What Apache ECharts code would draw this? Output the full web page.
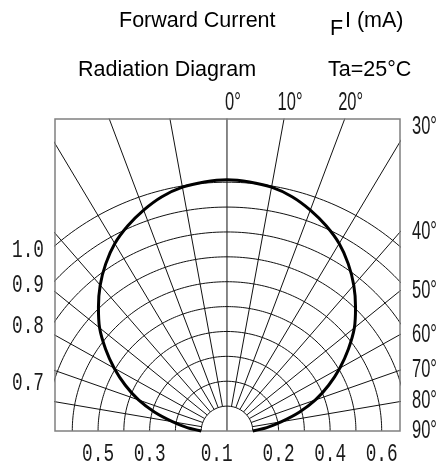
<!DOCTYPE html>
<html><head><meta charset="utf-8">
<script src="https://cdn.jsdelivr.net/npm/echarts@6/dist/echarts.min.js"></script>
<style>html,body{margin:0;padding:0;background:#fff}#c{width:441px;height:466px}</style>
</head><body><div id="c"></div>
<script>
// Radiation pattern (relative intensity vs angle, degrees from axis)
const curveAngles = [-90,-85,-80,-75,-70,-65,-60,-55,-50,-45,-40,-35,-30,-25,-20,-15,-10,-5,0,5,10,15,20,25,30,35,40,45,50,55,60,65,70,75,80,85,90];
const curveIntensity = [0.10,0.155,0.215,0.29,0.365,0.435,0.505,0.575,0.645,0.705,0.765,0.82,0.87,0.91,0.945,0.975,0.995,1.005,1.01,1.005,0.995,0.975,0.945,0.91,0.87,0.82,0.765,0.705,0.645,0.575,0.505,0.435,0.365,0.29,0.215,0.155,0.10];
// Polar grid
const gridRadii = [0.1,0.2,0.3,0.4,0.5,0.6,0.7,0.8,0.9,1.0];
const spokeAngles = [-80,-70,-60,-50,-40,-30,-20,-10,0,10,20,30,40,50,60,70,80];
// Tick labels
const topAngleValues = [0,10,20];
const topAngleLabels = ['0°','10°','20°'];
const sideAngleValues = [30,40,50,60,70,80,90];
const sideAngleLabels = ['30°','40°','50°','60°','70°','80°','90°'];
const leftRadiusValues = [1.0,0.9,0.8,0.7];
const leftRadiusLabels = ['1.0','0.9','0.8','0.7'];
const bottomTickValues = [-0.5,-0.3,-0.04,0.2,0.4,0.6];
const bottomTickLabels = ['0.5','0.3','0.1','0.2','0.4','0.6'];

const rad = d => d * Math.PI / 180;
const polar = (r, deg) => [r * Math.sin(rad(deg)), r * Math.cos(rad(deg))];

const X_MIN = -0.667, X_MAX = 0.671, Y_MAX = 1.254;

const chart = echarts.init(document.getElementById('c'), null, {renderer: 'canvas'});
const series = [];
gridRadii.forEach(r => {
  const pts = [];
  for (let a = -90; a <= 90; a += 1) pts.push(polar(r, a));
  series.push({type: 'line', data: pts, showSymbol: false, silent: true, clip: true,
    lineStyle: {color: '#111', width: 1}, z: 2});
});
spokeAngles.forEach(a => {
  const rin = a === 0 ? 0 : 0.1;
  series.push({type: 'line', data: [polar(rin, a), polar(3, a)], showSymbol: false, silent: true, clip: true,
    lineStyle: {color: '#111', width: 1}, z: 2});
});
series.push({type: 'line', data: curveAngles.map((a, i) => polar(curveIntensity[i], a)),
  showSymbol: false, silent: true, clip: false, smooth: 0.25,
  lineStyle: {color: '#000', width: 3}, z: 5});

chart.setOption({
  animation: false,
  backgroundColor: '#fff',
  grid: {left: 55, right: 41, top: 119, bottom: 35, show: true, borderColor: '#808080', borderWidth: 1.5, backgroundColor: 'transparent', z: 4},
  xAxis: {type: 'value', min: X_MIN, max: X_MAX, show: false},
  yAxis: {type: 'value', min: 0, max: Y_MAX, show: false},
  series: series
});

function txt(text, x, y, opt) {
  opt = opt || {};
  return {type: 'text', x: x, y: y, scaleX: opt.scaleX || 1, silent: true, z: 10,
    style: {text: text, font: opt.font, fill: opt.fill || '#000',
      align: opt.align || 'left', verticalAlign: 'middle',
      textAlign: opt.align || 'left', textVerticalAlign: 'middle'}};
}
const px = p => chart.convertToPixel({gridIndex: 0}, p);
const g = [];
const titleFont = '21.5px "Liberation Sans", Arial, sans-serif';
g.push(txt('Forward Current', 119, 21, {font: titleFont}));
g.push(txt('Radiation Diagram', 78, 70, {font: titleFont}));
g.push(txt('F', 330, 29, {font: titleFont}));
g.push(txt('I (mA)', 345, 21, {font: titleFont}));
g.push(txt('Ta=25°C', 328, 70, {font: titleFont}));

const degFont = '25px "Liberation Sans", Arial, sans-serif';
const numFont = '25px "Liberation Mono", "DejaVu Sans Mono", monospace';
const lblColor = '#1a1a1a';
const topY = px([0, Y_MAX])[1];
topAngleValues.forEach((a, i) => {
  const p = px([Y_MAX * Math.tan(rad(a)), Y_MAX]);
  g.push(txt(topAngleLabels[i], p[0] + 6, topY - 16, {font: degFont, align: 'center', scaleX: 0.66, fill: lblColor}));
});
const rightX = px([X_MAX, 0])[0];
sideAngleValues.forEach((a, i) => {
  let y;
  if (a >= 90) y = px([X_MAX, 0])[1];
  else y = px([X_MAX, X_MAX / Math.tan(rad(a))])[1];
  if (a === 30) y = topY + 8;
  g.push(txt(sideAngleLabels[i], rightX + 12, y, {font: degFont, align: 'left', scaleX: 0.66, fill: lblColor}));
});
const leftX = px([X_MIN, 0])[0];
leftRadiusValues.forEach((r, i) => {
  const y = px([X_MIN, Math.sqrt(r * r - X_MIN * X_MIN)])[1] + 5;
  g.push(txt(leftRadiusLabels[i], leftX - 11, y, {font: numFont, align: 'right', scaleX: 0.71, fill: lblColor}));
});
const bottomY = px([0, 0])[1];
bottomTickValues.forEach((v, i) => {
  const p = px([v, 0]);
  g.push(txt(bottomTickLabels[i], p[0], bottomY + 23, {font: numFont, align: 'center', scaleX: 0.71, fill: lblColor}));
});
chart.setOption({graphic: g});
</script>
</body></html>
